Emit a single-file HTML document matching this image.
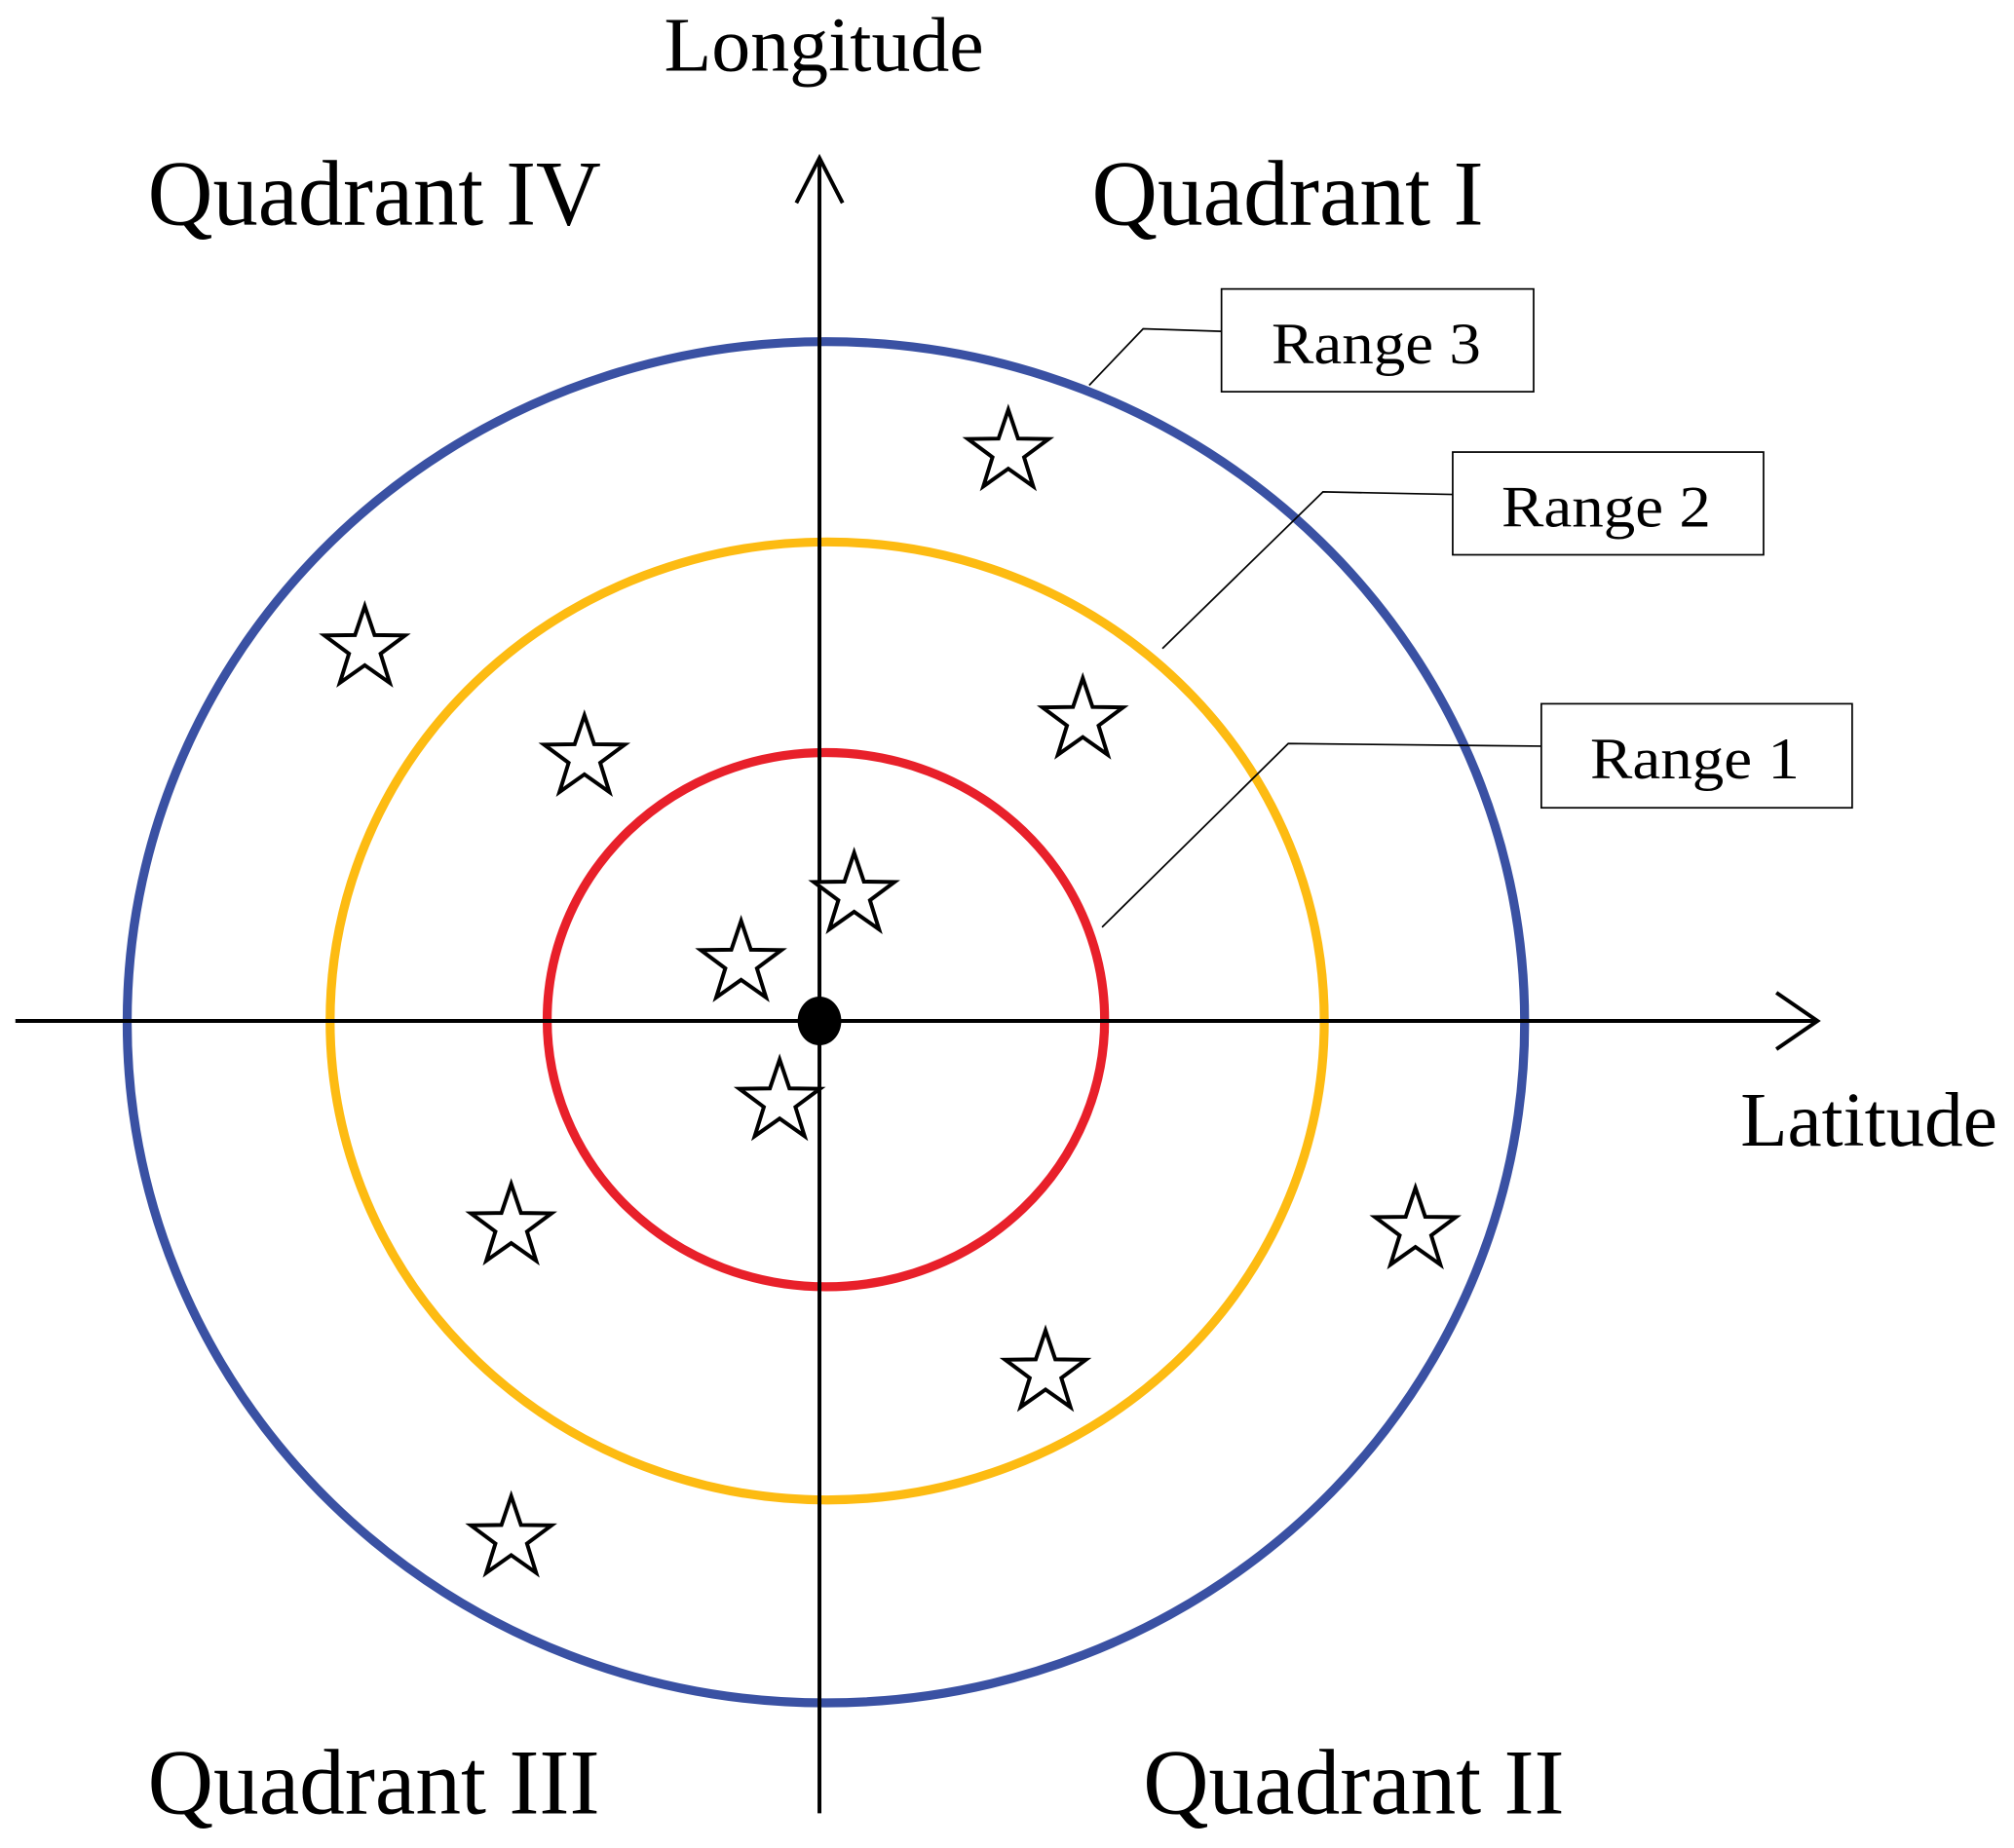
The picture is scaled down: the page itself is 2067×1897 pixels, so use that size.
<!DOCTYPE html>
<html><head><meta charset="utf-8"><style>html,body{margin:0;padding:0;background:#fff}svg{display:block}</style></head>
<body>
<svg width="2067" height="1897" viewBox="0 0 1568 1439" xmlns="http://www.w3.org/2000/svg">
<defs>
<polygon id="st" points="0,-33 7.6,-10.5 31.4,-10.2 12.3,4 19.4,26.7 0,13 -19.4,26.7 -12.3,4 -31.4,-10.2 -7.6,-10.5" fill="#fff" stroke="#000" stroke-width="3" stroke-linejoin="miter"/>
</defs>
<rect width="1568" height="1439" fill="#fff"/>
<ellipse cx="643" cy="796" rx="544" ry="530" fill="none" stroke="#3a51a3" stroke-width="7"/>
<ellipse cx="644" cy="795" rx="387" ry="373" fill="none" stroke="#fdbb12" stroke-width="7"/>
<ellipse cx="643" cy="794" rx="217" ry="208" fill="none" stroke="#e8202a" stroke-width="7"/>
<g stroke="#000" stroke-width="3" fill="none">
<line x1="12" y1="795" x2="1415" y2="795"/>
<polyline points="1383,773 1415,795 1383,817"/>
<line x1="638" y1="1412" x2="638" y2="123"/>
<polyline points="620,158 638,123 656,158"/>
</g>
<ellipse cx="638" cy="795" rx="17" ry="19" fill="#000"/>
<g stroke="#000" stroke-width="1.3" fill="none">
<polyline points="848,300 890,256 951,258"/>
<polyline points="905,505 1030,383 1131,385"/>
<polyline points="858,722 1003,579 1200,581"/>
<rect x="951" y="225" width="243" height="80"/>
<rect x="1131" y="352" width="242" height="80"/>
<rect x="1200" y="548" width="242" height="81"/>
</g>
<g font-family="Liberation Serif, serif" fill="#000">
<text x="517" y="55" font-size="60" textLength="249" lengthAdjust="spacingAndGlyphs">Longitude</text>
<text x="115" y="175" font-size="72" textLength="353" lengthAdjust="spacingAndGlyphs">Quadrant IV</text>
<text x="850" y="175" font-size="72" textLength="305" lengthAdjust="spacingAndGlyphs">Quadrant I</text>
<text x="115" y="1412" font-size="72" textLength="352" lengthAdjust="spacingAndGlyphs">Quadrant III</text>
<text x="890" y="1412" font-size="72" textLength="328" lengthAdjust="spacingAndGlyphs">Quadrant II</text>
<text x="1355" y="892" font-size="60" textLength="200" lengthAdjust="spacingAndGlyphs">Latitude</text>
<text x="990" y="283" font-size="46" textLength="163" lengthAdjust="spacingAndGlyphs">Range 3</text>
<text x="1169" y="410" font-size="46" textLength="163" lengthAdjust="spacingAndGlyphs">Range 2</text>
<text x="1238" y="606" font-size="46" textLength="163" lengthAdjust="spacingAndGlyphs">Range 1</text>
</g>
<use href="#st" x="785" y="352"/>
<use href="#st" x="284" y="505"/>
<use href="#st" x="455" y="590"/>
<use href="#st" x="843" y="561"/>
<use href="#st" x="665" y="697"/>
<use href="#st" x="577" y="750"/>
<use href="#st" x="607" y="858"/>
<use href="#st" x="398" y="955"/>
<use href="#st" x="1102" y="958"/>
<use href="#st" x="814" y="1069"/>
<use href="#st" x="398" y="1198"/>
</svg>
</body></html>
